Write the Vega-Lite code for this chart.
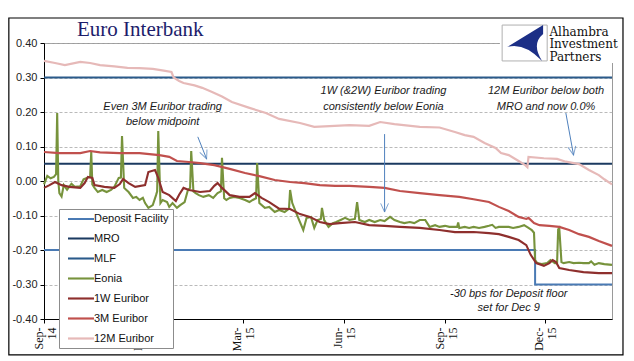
{
  "$schema": "https://vega.github.io/schema/vega-lite/v6.json",
  "width": 568,
  "height": 276,
  "autosize": {"type": "none"},
  "padding": {"left": 44, "top": 43, "right": 22, "bottom": 42},
  "background": "white",
  "title": {"text": "Euro Interbank", "anchor": "start", "frame": "group", "dx": 33, "offset": -23, "font": "Liberation Serif", "fontSize": 21, "fontWeight": "normal", "color": "#1d1d6b"},
  "config": {
    "view": {"stroke": "#9a9a9a", "strokeWidth": 1},
    "font": "Liberation Sans"
  },
  "datasets": {
    "rates": [
      {"date":"2014-09-18","series":"MLF","value":0.30},{"date":"2016-02-17","series":"MLF","value":0.30},
      {"date":"2014-09-18","series":"MRO","value":0.05},{"date":"2016-02-17","series":"MRO","value":0.05},
      {"date":"2014-09-18","series":"Deposit Facility","value":-0.20},{"date":"2015-12-09","series":"Deposit Facility","value":-0.30},{"date":"2016-02-17","series":"Deposit Facility","value":-0.30},
      {"date":"2014-09-18","series":"Eonia","value":-0.01},{"date":"2014-09-21","series":"Eonia","value":0.015},{"date":"2014-09-24","series":"Eonia","value":0.008},{"date":"2014-09-27","series":"Eonia","value":0.012},{"date":"2014-09-29","series":"Eonia","value":0.02},{"date":"2014-09-30","series":"Eonia","value":0.197},{"date":"2014-10-01","series":"Eonia","value":0.0},{"date":"2014-10-02","series":"Eonia","value":-0.035},{"date":"2014-10-04","series":"Eonia","value":-0.045},{"date":"2014-10-06","series":"Eonia","value":-0.012},{"date":"2014-10-09","series":"Eonia","value":-0.025},{"date":"2014-10-13","series":"Eonia","value":-0.008},{"date":"2014-10-16","series":"Eonia","value":-0.017},{"date":"2014-10-21","series":"Eonia","value":-0.015},{"date":"2014-10-24","series":"Eonia","value":0.005},{"date":"2014-10-28","series":"Eonia","value":0.01},{"date":"2014-10-30","series":"Eonia","value":0.012},{"date":"2014-10-31","series":"Eonia","value":0.084},{"date":"2014-11-01","series":"Eonia","value":-0.01},{"date":"2014-11-03","series":"Eonia","value":-0.02},{"date":"2014-11-06","series":"Eonia","value":-0.032},{"date":"2014-11-10","series":"Eonia","value":-0.026},{"date":"2014-11-14","series":"Eonia","value":-0.032},{"date":"2014-11-18","series":"Eonia","value":-0.026},{"date":"2014-11-21","series":"Eonia","value":-0.017},{"date":"2014-11-25","series":"Eonia","value":0.009},{"date":"2014-11-27","series":"Eonia","value":0.01},{"date":"2014-11-28","series":"Eonia","value":0.13},{"date":"2014-11-30","series":"Eonia","value":-0.02},{"date":"2014-12-02","series":"Eonia","value":-0.026},{"date":"2014-12-04","series":"Eonia","value":-0.032},{"date":"2014-12-08","series":"Eonia","value":-0.049},{"date":"2014-12-11","series":"Eonia","value":-0.046},{"date":"2014-12-14","series":"Eonia","value":-0.055},{"date":"2014-12-17","series":"Eonia","value":-0.049},{"date":"2014-12-19","series":"Eonia","value":-0.064},{"date":"2014-12-22","series":"Eonia","value":-0.078},{"date":"2014-12-26","series":"Eonia","value":-0.07},{"date":"2014-12-29","series":"Eonia","value":-0.041},{"date":"2014-12-30","series":"Eonia","value":-0.03},{"date":"2014-12-31","series":"Eonia","value":0.145},{"date":"2015-01-02","series":"Eonia","value":-0.064},{"date":"2015-01-04","series":"Eonia","value":-0.055},{"date":"2015-01-08","series":"Eonia","value":-0.061},{"date":"2015-01-10","series":"Eonia","value":-0.075},{"date":"2015-01-13","series":"Eonia","value":-0.064},{"date":"2015-01-17","series":"Eonia","value":-0.078},{"date":"2015-01-20","series":"Eonia","value":-0.07},{"date":"2015-01-24","series":"Eonia","value":-0.061},{"date":"2015-01-27","series":"Eonia","value":-0.026},{"date":"2015-01-29","series":"Eonia","value":-0.02},{"date":"2015-01-30","series":"Eonia","value":0.087},{"date":"2015-02-01","series":"Eonia","value":-0.03},{"date":"2015-02-03","series":"Eonia","value":-0.035},{"date":"2015-02-06","series":"Eonia","value":-0.041},{"date":"2015-02-10","series":"Eonia","value":-0.046},{"date":"2015-02-15","series":"Eonia","value":-0.041},{"date":"2015-02-19","series":"Eonia","value":-0.049},{"date":"2015-02-23","series":"Eonia","value":-0.035},{"date":"2015-02-26","series":"Eonia","value":-0.03},{"date":"2015-02-27","series":"Eonia","value":0.067},{"date":"2015-03-01","series":"Eonia","value":-0.05},{"date":"2015-03-03","series":"Eonia","value":-0.055},{"date":"2015-03-06","series":"Eonia","value":-0.049},{"date":"2015-03-10","series":"Eonia","value":-0.046},{"date":"2015-03-15","series":"Eonia","value":-0.049},{"date":"2015-03-20","series":"Eonia","value":-0.055},{"date":"2015-03-24","series":"Eonia","value":-0.061},{"date":"2015-03-27","series":"Eonia","value":-0.055},{"date":"2015-03-30","series":"Eonia","value":-0.05},{"date":"2015-03-31","series":"Eonia","value":0.052},{"date":"2015-04-02","series":"Eonia","value":-0.064},{"date":"2015-04-07","series":"Eonia","value":-0.078},{"date":"2015-04-11","series":"Eonia","value":-0.075},{"date":"2015-04-16","series":"Eonia","value":-0.09},{"date":"2015-04-20","series":"Eonia","value":-0.084},{"date":"2015-04-25","series":"Eonia","value":-0.09},{"date":"2015-04-29","series":"Eonia","value":-0.08},{"date":"2015-04-30","series":"Eonia","value":-0.026},{"date":"2015-05-02","series":"Eonia","value":-0.064},{"date":"2015-05-07","series":"Eonia","value":-0.104},{"date":"2015-05-12","series":"Eonia","value":-0.142},{"date":"2015-05-15","series":"Eonia","value":-0.107},{"date":"2015-05-19","series":"Eonia","value":-0.104},{"date":"2015-05-22","series":"Eonia","value":-0.136},{"date":"2015-05-25","series":"Eonia","value":-0.113},{"date":"2015-05-28","series":"Eonia","value":-0.11},{"date":"2015-05-29","series":"Eonia","value":-0.078},{"date":"2015-05-31","series":"Eonia","value":-0.113},{"date":"2015-06-04","series":"Eonia","value":-0.133},{"date":"2015-06-08","series":"Eonia","value":-0.122},{"date":"2015-06-11","series":"Eonia","value":-0.119},{"date":"2015-06-15","series":"Eonia","value":-0.113},{"date":"2015-06-19","series":"Eonia","value":-0.107},{"date":"2015-06-23","series":"Eonia","value":-0.113},{"date":"2015-06-28","series":"Eonia","value":-0.11},{"date":"2015-06-30","series":"Eonia","value":-0.061},{"date":"2015-07-02","series":"Eonia","value":-0.113},{"date":"2015-07-07","series":"Eonia","value":-0.119},{"date":"2015-07-11","series":"Eonia","value":-0.113},{"date":"2015-07-16","series":"Eonia","value":-0.119},{"date":"2015-07-21","series":"Eonia","value":-0.113},{"date":"2015-07-25","series":"Eonia","value":-0.116},{"date":"2015-07-30","series":"Eonia","value":-0.104},{"date":"2015-08-03","series":"Eonia","value":-0.113},{"date":"2015-08-08","series":"Eonia","value":-0.119},{"date":"2015-08-12","series":"Eonia","value":-0.122},{"date":"2015-08-17","series":"Eonia","value":-0.119},{"date":"2015-08-21","series":"Eonia","value":-0.122},{"date":"2015-08-26","series":"Eonia","value":-0.113},{"date":"2015-08-31","series":"Eonia","value":-0.113},{"date":"2015-09-04","series":"Eonia","value":-0.133},{"date":"2015-09-09","series":"Eonia","value":-0.128},{"date":"2015-09-13","series":"Eonia","value":-0.133},{"date":"2015-09-18","series":"Eonia","value":-0.13},{"date":"2015-09-22","series":"Eonia","value":-0.133},{"date":"2015-09-27","series":"Eonia","value":-0.133},{"date":"2015-09-29","series":"Eonia","value":-0.133},{"date":"2015-09-30","series":"Eonia","value":-0.12},{"date":"2015-10-01","series":"Eonia","value":-0.136},{"date":"2015-10-06","series":"Eonia","value":-0.133},{"date":"2015-10-10","series":"Eonia","value":-0.136},{"date":"2015-10-14","series":"Eonia","value":-0.133},{"date":"2015-10-19","series":"Eonia","value":-0.136},{"date":"2015-10-24","series":"Eonia","value":-0.133},{"date":"2015-10-28","series":"Eonia","value":-0.13},{"date":"2015-10-31","series":"Eonia","value":-0.127},{"date":"2015-11-03","series":"Eonia","value":-0.136},{"date":"2015-11-06","series":"Eonia","value":-0.133},{"date":"2015-11-10","series":"Eonia","value":-0.133},{"date":"2015-11-15","series":"Eonia","value":-0.133},{"date":"2015-11-19","series":"Eonia","value":-0.136},{"date":"2015-11-24","series":"Eonia","value":-0.133},{"date":"2015-11-29","series":"Eonia","value":-0.128},{"date":"2015-12-03","series":"Eonia","value":-0.136},{"date":"2015-12-06","series":"Eonia","value":-0.142},{"date":"2015-12-08","series":"Eonia","value":-0.15},{"date":"2015-12-09","series":"Eonia","value":-0.229},{"date":"2015-12-11","series":"Eonia","value":-0.238},{"date":"2015-12-15","series":"Eonia","value":-0.241},{"date":"2015-12-20","series":"Eonia","value":-0.238},{"date":"2015-12-23","series":"Eonia","value":-0.229},{"date":"2015-12-27","series":"Eonia","value":-0.238},{"date":"2015-12-29","series":"Eonia","value":-0.238},{"date":"2015-12-30","series":"Eonia","value":-0.14},{"date":"2015-12-31","series":"Eonia","value":-0.136},{"date":"2016-01-02","series":"Eonia","value":-0.235},{"date":"2016-01-04","series":"Eonia","value":-0.238},{"date":"2016-01-09","series":"Eonia","value":-0.235},{"date":"2016-01-13","series":"Eonia","value":-0.238},{"date":"2016-01-18","series":"Eonia","value":-0.237},{"date":"2016-01-22","series":"Eonia","value":-0.238},{"date":"2016-01-27","series":"Eonia","value":-0.238},{"date":"2016-01-29","series":"Eonia","value":-0.233},{"date":"2016-02-01","series":"Eonia","value":-0.243},{"date":"2016-02-05","series":"Eonia","value":-0.238},{"date":"2016-02-10","series":"Eonia","value":-0.241},{"date":"2016-02-17","series":"Eonia","value":-0.243},
      {"date":"2014-09-18","series":"1W Euribor","value":-0.02},{"date":"2014-09-23","series":"1W Euribor","value":-0.012},{"date":"2014-09-28","series":"1W Euribor","value":-0.003},{"date":"2014-10-04","series":"1W Euribor","value":-0.012},{"date":"2014-10-11","series":"1W Euribor","value":-0.017},{"date":"2014-10-21","series":"1W Euribor","value":-0.02},{"date":"2014-10-25","series":"1W Euribor","value":-0.006},{"date":"2014-10-28","series":"1W Euribor","value":0.012},{"date":"2014-11-01","series":"1W Euribor","value":0.009},{"date":"2014-11-03","series":"1W Euribor","value":-0.012},{"date":"2014-11-12","series":"1W Euribor","value":-0.017},{"date":"2014-11-21","series":"1W Euribor","value":-0.02},{"date":"2014-11-26","series":"1W Euribor","value":-0.009},{"date":"2014-11-29","series":"1W Euribor","value":0.006},{"date":"2014-12-04","series":"1W Euribor","value":-0.006},{"date":"2014-12-10","series":"1W Euribor","value":-0.017},{"date":"2014-12-19","series":"1W Euribor","value":-0.012},{"date":"2014-12-22","series":"1W Euribor","value":0.026},{"date":"2014-12-28","series":"1W Euribor","value":0.032},{"date":"2014-12-31","series":"1W Euribor","value":0.009},{"date":"2015-01-04","series":"1W Euribor","value":-0.032},{"date":"2015-01-10","series":"1W Euribor","value":-0.041},{"date":"2015-01-16","series":"1W Euribor","value":-0.058},{"date":"2015-01-19","series":"1W Euribor","value":-0.04},{"date":"2015-01-23","series":"1W Euribor","value":-0.02},{"date":"2015-01-28","series":"1W Euribor","value":-0.026},{"date":"2015-02-07","series":"1W Euribor","value":-0.032},{"date":"2015-02-16","series":"1W Euribor","value":-0.029},{"date":"2015-02-20","series":"1W Euribor","value":-0.014},{"date":"2015-02-23","series":"1W Euribor","value":-0.006},{"date":"2015-02-27","series":"1W Euribor","value":-0.02},{"date":"2015-03-06","series":"1W Euribor","value":-0.041},{"date":"2015-03-15","series":"1W Euribor","value":-0.046},{"date":"2015-03-24","series":"1W Euribor","value":-0.046},{"date":"2015-03-29","series":"1W Euribor","value":-0.035},{"date":"2015-04-04","series":"1W Euribor","value":-0.049},{"date":"2015-04-11","series":"1W Euribor","value":-0.061},{"date":"2015-04-20","series":"1W Euribor","value":-0.08},{"date":"2015-04-30","series":"1W Euribor","value":-0.081},{"date":"2015-05-09","series":"1W Euribor","value":-0.096},{"date":"2015-05-18","series":"1W Euribor","value":-0.104},{"date":"2015-05-27","series":"1W Euribor","value":-0.119},{"date":"2015-06-05","series":"1W Euribor","value":-0.125},{"date":"2015-06-14","series":"1W Euribor","value":-0.122},{"date":"2015-06-28","series":"1W Euribor","value":-0.119},{"date":"2015-07-11","series":"1W Euribor","value":-0.128},{"date":"2015-07-25","series":"1W Euribor","value":-0.13},{"date":"2015-08-08","series":"1W Euribor","value":-0.133},{"date":"2015-08-26","series":"1W Euribor","value":-0.136},{"date":"2015-09-13","series":"1W Euribor","value":-0.142},{"date":"2015-09-27","series":"1W Euribor","value":-0.148},{"date":"2015-10-14","series":"1W Euribor","value":-0.148},{"date":"2015-10-28","series":"1W Euribor","value":-0.151},{"date":"2015-11-06","series":"1W Euribor","value":-0.154},{"date":"2015-11-15","series":"1W Euribor","value":-0.162},{"date":"2015-11-24","series":"1W Euribor","value":-0.171},{"date":"2015-12-01","series":"1W Euribor","value":-0.186},{"date":"2015-12-05","series":"1W Euribor","value":-0.214},{"date":"2015-12-10","series":"1W Euribor","value":-0.238},{"date":"2015-12-17","series":"1W Euribor","value":-0.246},{"date":"2015-12-22","series":"1W Euribor","value":-0.238},{"date":"2015-12-25","series":"1W Euribor","value":-0.229},{"date":"2015-12-28","series":"1W Euribor","value":-0.235},{"date":"2015-12-31","series":"1W Euribor","value":-0.252},{"date":"2016-01-09","series":"1W Euribor","value":-0.258},{"date":"2016-01-22","series":"1W Euribor","value":-0.264},{"date":"2016-02-05","series":"1W Euribor","value":-0.267},{"date":"2016-02-17","series":"1W Euribor","value":-0.267},
      {"date":"2014-09-18","series":"3M Euribor","value":0.084},{"date":"2014-10-02","series":"3M Euribor","value":0.081},{"date":"2014-10-21","series":"3M Euribor","value":0.081},{"date":"2014-10-30","series":"3M Euribor","value":0.087},{"date":"2014-11-08","series":"3M Euribor","value":0.083},{"date":"2014-11-26","series":"3M Euribor","value":0.081},{"date":"2014-12-14","series":"3M Euribor","value":0.081},{"date":"2015-01-01","series":"3M Euribor","value":0.075},{"date":"2015-01-10","series":"3M Euribor","value":0.07},{"date":"2015-01-17","series":"3M Euribor","value":0.058},{"date":"2015-01-28","series":"3M Euribor","value":0.055},{"date":"2015-02-07","series":"3M Euribor","value":0.052},{"date":"2015-02-20","series":"3M Euribor","value":0.046},{"date":"2015-03-06","series":"3M Euribor","value":0.035},{"date":"2015-03-20","series":"3M Euribor","value":0.023},{"date":"2015-04-02","series":"3M Euribor","value":0.014},{"date":"2015-04-16","series":"3M Euribor","value":0.003},{"date":"2015-04-30","series":"3M Euribor","value":-0.003},{"date":"2015-05-13","series":"3M Euribor","value":-0.006},{"date":"2015-05-27","series":"3M Euribor","value":-0.012},{"date":"2015-06-10","series":"3M Euribor","value":-0.014},{"date":"2015-06-23","series":"3M Euribor","value":-0.014},{"date":"2015-07-11","series":"3M Euribor","value":-0.017},{"date":"2015-07-25","series":"3M Euribor","value":-0.02},{"date":"2015-08-08","series":"3M Euribor","value":-0.029},{"date":"2015-08-26","series":"3M Euribor","value":-0.035},{"date":"2015-09-13","series":"3M Euribor","value":-0.041},{"date":"2015-10-01","series":"3M Euribor","value":-0.046},{"date":"2015-10-14","series":"3M Euribor","value":-0.053},{"date":"2015-10-28","series":"3M Euribor","value":-0.061},{"date":"2015-11-06","series":"3M Euribor","value":-0.075},{"date":"2015-11-15","series":"3M Euribor","value":-0.087},{"date":"2015-11-24","series":"3M Euribor","value":-0.104},{"date":"2015-12-01","series":"3M Euribor","value":-0.11},{"date":"2015-12-03","series":"3M Euribor","value":-0.107},{"date":"2015-12-08","series":"3M Euribor","value":-0.122},{"date":"2015-12-13","series":"3M Euribor","value":-0.128},{"date":"2015-12-22","series":"3M Euribor","value":-0.13},{"date":"2015-12-31","series":"3M Euribor","value":-0.133},{"date":"2016-01-09","series":"3M Euribor","value":-0.142},{"date":"2016-01-18","series":"3M Euribor","value":-0.154},{"date":"2016-01-27","series":"3M Euribor","value":-0.162},{"date":"2016-02-05","series":"3M Euribor","value":-0.174},{"date":"2016-02-17","series":"3M Euribor","value":-0.188},
      {"date":"2014-09-18","series":"12M Euribor","value":0.348},{"date":"2014-09-28","series":"12M Euribor","value":0.342},{"date":"2014-10-07","series":"12M Euribor","value":0.336},{"date":"2014-10-21","series":"12M Euribor","value":0.345},{"date":"2014-10-30","series":"12M Euribor","value":0.342},{"date":"2014-11-08","series":"12M Euribor","value":0.336},{"date":"2014-11-21","series":"12M Euribor","value":0.332},{"date":"2014-12-03","series":"12M Euribor","value":0.328},{"date":"2014-12-14","series":"12M Euribor","value":0.327},{"date":"2014-12-26","series":"12M Euribor","value":0.325},{"date":"2015-01-05","series":"12M Euribor","value":0.32},{"date":"2015-01-12","series":"12M Euribor","value":0.316},{"date":"2015-01-14","series":"12M Euribor","value":0.30},{"date":"2015-01-19","series":"12M Euribor","value":0.29},{"date":"2015-01-23","series":"12M Euribor","value":0.284},{"date":"2015-02-02","series":"12M Euribor","value":0.277},{"date":"2015-02-09","series":"12M Euribor","value":0.27},{"date":"2015-02-18","series":"12M Euribor","value":0.258},{"date":"2015-02-27","series":"12M Euribor","value":0.245},{"date":"2015-03-08","series":"12M Euribor","value":0.229},{"date":"2015-03-24","series":"12M Euribor","value":0.212},{"date":"2015-04-08","series":"12M Euribor","value":0.197},{"date":"2015-04-20","series":"12M Euribor","value":0.18},{"date":"2015-05-09","series":"12M Euribor","value":0.168},{"date":"2015-05-22","series":"12M Euribor","value":0.157},{"date":"2015-06-05","series":"12M Euribor","value":0.159},{"date":"2015-06-23","series":"12M Euribor","value":0.162},{"date":"2015-07-11","series":"12M Euribor","value":0.16},{"date":"2015-07-21","series":"12M Euribor","value":0.171},{"date":"2015-08-03","series":"12M Euribor","value":0.165},{"date":"2015-08-26","series":"12M Euribor","value":0.157},{"date":"2015-09-13","series":"12M Euribor","value":0.155},{"date":"2015-09-27","series":"12M Euribor","value":0.142},{"date":"2015-10-06","series":"12M Euribor","value":0.133},{"date":"2015-10-14","series":"12M Euribor","value":0.128},{"date":"2015-10-24","series":"12M Euribor","value":0.11},{"date":"2015-11-03","series":"12M Euribor","value":0.096},{"date":"2015-11-08","series":"12M Euribor","value":0.081},{"date":"2015-11-15","series":"12M Euribor","value":0.075},{"date":"2015-11-24","series":"12M Euribor","value":0.058},{"date":"2015-11-30","series":"12M Euribor","value":0.046},{"date":"2015-12-02","series":"12M Euribor","value":0.04},{"date":"2015-12-03","series":"12M Euribor","value":0.07},{"date":"2015-12-17","series":"12M Euribor","value":0.066},{"date":"2015-12-29","series":"12M Euribor","value":0.064},{"date":"2016-01-06","series":"12M Euribor","value":0.056},{"date":"2016-01-18","series":"12M Euribor","value":0.049},{"date":"2016-01-27","series":"12M Euribor","value":0.032},{"date":"2016-02-05","series":"12M Euribor","value":0.017},{"date":"2016-02-10","series":"12M Euribor","value":0.005},{"date":"2016-02-17","series":"12M Euribor","value":-0.01}
    ],
    "notes": [
      {"date":"2015-01-04","value":0.214,"text":"Even 3M Euribor trading"},
      {"date":"2015-01-04","value":0.171,"text":"below midpoint"},
      {"date":"2015-07-24","value":0.261,"text":"1W (&2W) Euribor trading"},
      {"date":"2015-07-24","value":0.214,"text":"consistently below Eonia"},
      {"date":"2015-12-19","value":0.261,"text":"12M Euribor below both"},
      {"date":"2015-12-19","value":0.214,"text":"MRO and  now 0.0%"},
      {"date":"2015-11-15","value":-0.328,"text":"-30 bps for Deposit floor"},
      {"date":"2015-11-15","value":-0.368,"text":"set for Dec 9"}
    ],
    "arrows": [
      {"arrow":"a","date":"2015-02-05","value":0.128,"date2":"2015-02-13","value2":0.064},
      {"arrow":"b","date":"2015-07-25","value":0.136,"date2":"2015-07-25","value2":-0.09},
      {"arrow":"c","date":"2016-01-06","value":0.197,"date2":"2016-01-13","value2":0.075}
    ]
  },
  "layer": [
    {
      "data": {"name": "rates"},
      "transform": [{"filter": "datum.series === 'MLF' || datum.series === 'MRO'"}],
      "mark": {"type": "line"},
      "encoding": {
        "x": {"field": "date", "type": "temporal",
          "scale": {"type": "utc", "domain": [{"year":2014,"month":9,"date":18,"utc":true},{"year":2016,"month":2,"date":17,"utc":true}]},
          "axis": {"title": null, "grid": false,
            "values": [{"year":2014,"month":9,"date":18,"utc":true},{"year":2014,"month":12,"date":18,"utc":true},{"year":2015,"month":3,"date":18,"utc":true},{"year":2015,"month":6,"date":18,"utc":true},{"year":2015,"month":9,"date":18,"utc":true},{"year":2015,"month":12,"date":18,"utc":true}],
            "labelExpr": "[utcFormat(datum.value, '%b-'), utcFormat(datum.value, '%y')]",
            "labelAngle": 270, "labelFont": "Liberation Serif", "labelFontSize": 12, "labelLineHeight": 13, "labelColor": "#111",
            "labelPadding": 4, "labelOffset": -6, "tickSize": 4, "tickColor": "#000", "domainColor": "#000"}},
        "y": {"field": "value", "type": "quantitative",
          "scale": {"domain": [-0.4, 0.4], "nice": false, "zero": false},
          "axis": {"title": null, "values": [-0.4,-0.3,-0.2,-0.1,0,0.1,0.2,0.3,0.4], "tickCount": 9,
            "labelExpr": "(datum.value < -0.0001 ? '-' : '') + format(abs(datum.value), '.2f')",
            "grid": true, "gridDash": [3,2], "gridColor": "#a8a8a8", "gridWidth": 0.8,
            "labelFont": "Liberation Sans", "labelFontSize": 11, "labelColor": "#222", "labelPadding": 3,
            "tickSize": 4, "tickColor": "#000", "domainColor": "#000"}},
        "color": {"field": "series", "type": "nominal",
          "scale": {"domain": ["Deposit Facility","MRO","MLF","Eonia","1W Euribor","3M Euribor","12M Euribor"],
                    "range": ["#4a7ab4","#1b3a60","#2a5a8a","#77933c","#8e2f2d","#c0504d","#e6b9b8"]},
          "legend": {"orient": "none", "legendX": 15, "legendY": 166, "title": null, "fillColor": "white", "strokeColor": "#8c8c8c",
            "padding": 4, "symbolType": "M-0.3,0H4.9", "symbolSize": 100, "rowPadding": 8, "labelOffset": 18,
            "labelFont": "Liberation Sans", "labelFontSize": 11, "labelColor": "#111"}},
        "strokeWidth": {"field": "series", "type": "nominal",
          "scale": {"domain": ["Deposit Facility","MRO","MLF","Eonia","1W Euribor","3M Euribor","12M Euribor"],
                    "range": [2, 2.2, 2, 1.6, 3.5, 3, 3.5]},
          "legend": {"orient": "none", "legendX": 15, "legendY": 166, "title": null, "fillColor": "white", "strokeColor": "#8c8c8c",
            "padding": 4, "symbolType": "M-0.3,0H4.9", "symbolSize": 100, "rowPadding": 8, "labelOffset": 18,
            "labelFont": "Liberation Sans", "labelFontSize": 11, "labelColor": "#111"}}
      }
    },
    {
      "data": {"name": "rates"},
      "transform": [{"filter": "datum.series === 'Deposit Facility'"}],
      "mark": {"type": "line", "interpolate": "step-after"},
      "encoding": {"x": {"field": "date", "type": "temporal"}, "y": {"field": "value", "type": "quantitative"},
        "color": {"field": "series", "type": "nominal"}, "strokeWidth": {"field": "series", "type": "nominal"}}
    },
    {
      "data": {"name": "rates"},
      "transform": [{"filter": "datum.series === 'Eonia'"}],
      "mark": {"type": "line"},
      "encoding": {"x": {"field": "date", "type": "temporal"}, "y": {"field": "value", "type": "quantitative"},
        "color": {"field": "series", "type": "nominal"}, "strokeWidth": {"field": "series", "type": "nominal"}}
    },
    {
      "data": {"name": "rates"},
      "transform": [{"filter": "datum.series === '1W Euribor'"}],
      "mark": {"type": "line"},
      "encoding": {"x": {"field": "date", "type": "temporal"}, "y": {"field": "value", "type": "quantitative"},
        "color": {"field": "series", "type": "nominal"}, "strokeWidth": {"field": "series", "type": "nominal"}}
    },
    {
      "data": {"name": "rates"},
      "transform": [{"filter": "datum.series === '3M Euribor'"}],
      "mark": {"type": "line"},
      "encoding": {"x": {"field": "date", "type": "temporal"}, "y": {"field": "value", "type": "quantitative"},
        "color": {"field": "series", "type": "nominal"}, "strokeWidth": {"field": "series", "type": "nominal"}}
    },
    {
      "data": {"name": "rates"},
      "transform": [{"filter": "datum.series === '12M Euribor'"}],
      "mark": {"type": "line"},
      "encoding": {"x": {"field": "date", "type": "temporal"}, "y": {"field": "value", "type": "quantitative"},
        "color": {"field": "series", "type": "nominal"}, "strokeWidth": {"field": "series", "type": "nominal"}}
    },
    {
      "data": {"values": [{"id": 1}]},
      "mark": {"type": "rect", "fill": "white", "strokeWidth": 0},
      "encoding": {
        "x": {"datum": 1446854400000, "type": "temporal"},
        "x2": {"datum": 1456358400000},
        "y": {"datum": 0.462, "type": "quantitative"},
        "y2": {"datum": 0.342}
      }
    },
    {
      "data": {"values": [{"id": 1}]},
      "mark": {"type": "rect", "fill": "white", "stroke": "#b0b0b0", "strokeWidth": 1},
      "encoding": {
        "x": {"datum": 1447027200000, "type": "temporal"},
        "x2": {"datum": 1450569600000},
        "y": {"datum": 0.452, "type": "quantitative"},
        "y2": {"datum": 0.348}
      }
    },
    {
      "data": {"values": [{"id": 1}]},
      "mark": {"type": "point", "filled": true, "fill": "#1c2f86", "strokeWidth": 0, "opacity": 1, "size": 1600,
        "shape": "M0.95,-0.9 L-0.85,0.2 Q0.0,-0.05 0.9,0.9 Q0.35,0.05 0.95,-0.45 Z"},
      "encoding": {
        "x": {"datum": 1448755200000, "type": "temporal"},
        "y": {"datum": 0.40, "type": "quantitative"}
      }
    },
    {
      "data": {"values": [{"id": 1}]},
      "mark": {"type": "text", "text": ["Alhambra", "Investment", "Partners"], "lineHeight": 12.5, "align": "left", "baseline": "middle",
        "font": "DejaVu Serif", "fontSize": 12, "fontWeight": "normal", "color": "#111"},
      "encoding": {
        "x": {"datum": 1450742400000, "type": "temporal"},
        "y": {"datum": 0.432, "type": "quantitative"}
      }
    },
    {
      "data": {"values": [{"id": 1}]},
      "mark": {"type": "rect", "fillOpacity": 0, "fill": "white", "stroke": "#000", "strokeWidth": 1.2},
      "encoding": {
        "x": {"datum": 1408233600000, "type": "temporal"},
        "x2": {"datum": 1456531200000},
        "y": {"datum": 0.4725, "type": "quantitative"},
        "y2": {"datum": -0.504}
      }
    },
    {
      "data": {"name": "notes"},
      "mark": {"type": "text", "align": "center", "baseline": "middle", "font": "Liberation Sans", "fontStyle": "italic", "fontSize": 11, "color": "#1a1a1a"},
      "encoding": {"x": {"field": "date", "type": "temporal"}, "y": {"field": "value", "type": "quantitative"},
        "text": {"field": "text", "type": "nominal"}}
    },
    {
      "data": {"name": "arrows"},
      "mark": {"type": "rule", "color": "#4f81bd", "strokeWidth": 1},
      "encoding": {"x": {"field": "date", "type": "temporal"}, "y": {"field": "value", "type": "quantitative"},
        "x2": {"field": "date2"}, "y2": {"field": "value2"}}
    },
    {
      "data": {"name": "arrows"},
      "transform": [{"filter": "datum.arrow === 'a'"}],
      "mark": {"type": "point", "shape": "M-0.45,-1L0,0L0.45,-1", "filled": false, "stroke": "#4f81bd", "strokeWidth": 1, "size": 300, "angle": 338},
      "encoding": {"x": {"field": "date2", "type": "temporal"}, "y": {"field": "value2", "type": "quantitative"}}
    },
    {
      "data": {"name": "arrows"},
      "transform": [{"filter": "datum.arrow === 'b'"}],
      "mark": {"type": "point", "shape": "M-0.45,-1L0,0L0.45,-1", "filled": false, "stroke": "#4f81bd", "strokeWidth": 1, "size": 300, "angle": 0},
      "encoding": {"x": {"field": "date2", "type": "temporal"}, "y": {"field": "value2", "type": "quantitative"}}
    },
    {
      "data": {"name": "arrows"},
      "transform": [{"filter": "datum.arrow === 'c'"}],
      "mark": {"type": "point", "shape": "M-0.45,-1L0,0L0.45,-1", "filled": false, "stroke": "#4f81bd", "strokeWidth": 1, "size": 300, "angle": 349},
      "encoding": {"x": {"field": "date2", "type": "temporal"}, "y": {"field": "value2", "type": "quantitative"}}
    }
  ]
}
